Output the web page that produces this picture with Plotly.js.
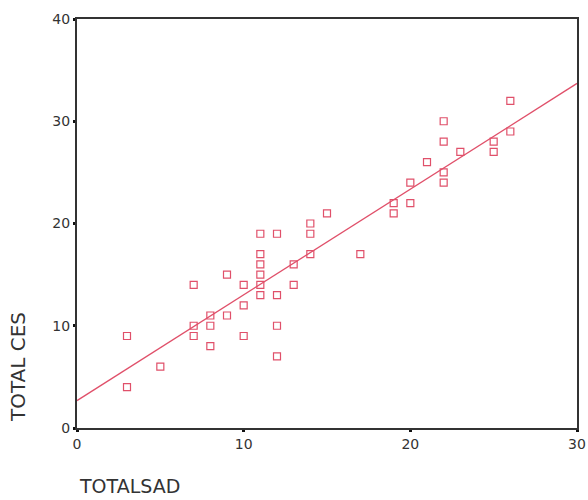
<!DOCTYPE html>
<html><head><meta charset="utf-8">
<script src="https://cdn.plot.ly/plotly-3.0.1.min.js"></script>
<style>body{margin:0;background:#fff}#chart{width:588px;height:500px}</style>
</head><body><div id="chart"></div>
<script>
const totalSad = [3,3,5,7,7,7,8,8,8,9,9,10,10,10,11,11,11,11,11,11,12,12,12,12,13,13,14,14,14,15,17,19,19,20,20,21,22,22,22,22,23,25,25,26,26];
const totalCes = [9,4,6,14,10,9,11,10,8,15,11,14,12,9,19,17,16,15,14,13,19,13,10,7,16,14,20,19,17,21,17,22,21,24,22,26,30,28,25,24,27,28,27,32,29];
const xTicks = [0,10,20,30];
const yTicks = [0,10,20,30,40];
// fitted regression line as shown in the chart
const fitIntercept = 2.68;
const fitSlope = 1.034;
const fitX = [0, 30];
const fitY = fitX.map(x => fitIntercept + fitSlope*x);

const red = '#e0506a';
const data = [
  {x: fitX, y: fitY, mode:'lines', line:{color:red, width:1.3}, hoverinfo:'skip'},
  {x: totalSad, y: totalCes, mode:'markers', type:'scatter',
   marker:{symbol:'square-open', size:7, color:red, line:{width:1.2, color:red}}}
];
const axisCommon = {showgrid:false, zeroline:false, showline:true, linecolor:'#333', linewidth:2, mirror:true,
  ticks:'outside', ticklen:2, tickwidth:3, tickcolor:'#111',
  tickfont:{family:'DejaVu Sans, sans-serif', size:14, color:'#333'}};
const layout = {
  width:588, height:500, showlegend:false,
  paper_bgcolor:'#fff', plot_bgcolor:'#fff',
  margin:{l:77, r:11, t:19, b:72},
  xaxis: Object.assign({}, axisCommon, {range:[0,30], tickvals:xTicks, ticktext:xTicks.map(String)}),
  yaxis: Object.assign({}, axisCommon, {range:[0,40], tickvals:yTicks, ticktext:yTicks.map(String)}),
  annotations:[
    {text:'TOTALSAD', xref:'paper', yref:'paper', x:0.0, y:-0.142, xanchor:'left', yanchor:'middle', showarrow:false,
     font:{family:'DejaVu Sans, sans-serif', size:19, color:'#333'}},
    {text:'TOTAL CES', xref:'paper', yref:'paper', x:-0.118, y:0.149, xanchor:'center', yanchor:'middle', showarrow:false, textangle:-90,
     font:{family:'DejaVu Sans, sans-serif', size:20, color:'#333'}}
  ]
};
Plotly.newPlot('chart', data, layout, {displayModeBar:false, staticPlot:true});
</script></body></html>
